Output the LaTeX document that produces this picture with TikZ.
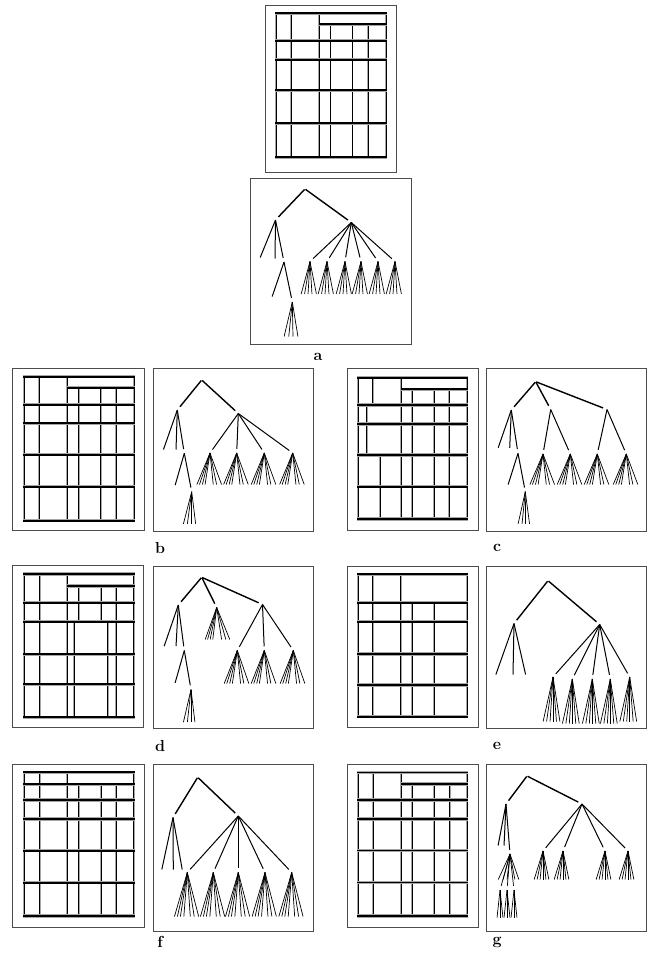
\documentclass[tikz,border=0pt]{standalone}

% fan of leaves hanging below one apex node
\newcommand{\leaffan}[3]{%
  \foreach \dx [count=\k] in {#3} {
    \path (#1) ++(\dx,#2) node[leaf] (#1-\k) {};
    \draw[twig] (#1.center) -- (#1-\k);
  }}

\begin{document}
\begin{tikzpicture}[
  x=1pt, y=-1pt,
  frame/.style={draw=black!70, line width=0.9pt},
  hrule/.style={draw=black!35, double=black, double distance=1.7pt, line width=0.85pt},
  vrule/.style={draw=black!35, double=black, double distance=0.8pt, line width=0.55pt},
  pt/.style={circle, inner sep=3pt, outer sep=0pt},
  leaf/.style={inner sep=0pt, outer sep=0pt},
  trunk/.style={line width=1.4pt},
  branch/.style={line width=1pt},
  twig/.style={line width=0.7pt},
  lbl/.style={font=\fontsize{16}{18}\selectfont\bfseries, inner sep=0pt}
]
\useasboundingbox (0,0) rectangle (651,958);

% ---------- panel a ----------
\draw[frame] (265,5) rectangle (396,172);
\begin{scope}[shift={(276,13.3)}]
  \foreach \x in {0,15,43,110} \draw[vrule] (\x,0) -- (\x,144);
  \foreach \x in {54.5,76.5,92} \draw[vrule] (\x,11) -- (\x,144);
  \draw[hrule] (43,11) -- (111,11);
  \foreach \y in {0,27.5,46.5,77,110,144} \draw[hrule] (-1,\y) -- (111,\y);
\end{scope}

\draw[frame] (250,178) rectangle (411,344);
\node[leaf] (a-r) at (305,189) {};
\node[pt] (a-l) at (275.5,220) {};
\node[pt] (a-m) at (351.3,222.5) {};
\draw[trunk] (a-r) -- (a-l);
\draw[trunk] (a-r) -- (a-m);
\node[leaf] (a-l1) at (260,258) {};
\node[leaf] (a-l2) at (275,259) {};
\node[pt] (a-ll) at (284,262) {};
\foreach \c in {a-l1,a-l2,a-ll} \draw[branch] (a-l.center) -- (\c);
\node[leaf] (a-ll1) at (272,297) {};
\node[pt] (a-lll) at (292.3,302) {};
\foreach \c in {a-ll1,a-lll} \draw[branch] (a-ll.center) -- (\c);
\leaffan{a-lll}{35}{-8.3,-3.6,0.7,5.7}
\foreach \x [count=\i] in {310,327,345,361,378,395} {
  \node[pt] (a-m\i) at (\x,261.5) {};
  \draw[branch] (a-m.center) -- (a-m\i);
  \leaffan{a-m\i}{33}{-9,-5.5,-2,2,6.5}
}
\node[lbl] (lab-a) at (318,357) {a};

% ---------- panel b ----------
\draw[frame] (12,368) rectangle (144,530);
\begin{scope}[shift={(24.3,376.7)}]
  \foreach \x in {0,15,43,110} \draw[vrule] (\x,0) -- (\x,144);
  \foreach \x in {54.5,76.5,92} \draw[vrule] (\x,11) -- (\x,144);
  \draw[hrule] (43,11) -- (111,11);
  \foreach \y in {0,28,46.5,78,110,144} \draw[hrule] (-1,\y) -- (111,\y);
\end{scope}

\draw[frame] (153,368) rectangle (313,531);
\node[leaf] (b-r) at (201.7,380) {};
\node[pt] (b-l) at (177.3,410) {};
\node[pt] (b-m) at (238.3,413.5) {};
\draw[trunk] (b-r) -- (b-l);
\draw[trunk] (b-r) -- (b-m);
\node[leaf] (b-l1) at (163.3,450) {};
\node[leaf] (b-l2) at (176,450) {};
\node[pt] (b-ll) at (184.3,453.3) {};
\foreach \c in {b-l1,b-l2,b-ll} \draw[branch] (b-l.center) -- (\c);
\node[leaf] (b-ll1) at (175,485.7) {};
\node[pt] (b-lll) at (191.7,491.7) {};
\foreach \c in {b-ll1,b-lll} \draw[branch] (b-ll.center) -- (\c);
\leaffan{b-lll}{32.6}{-8.4,-4.4,0,4}
\foreach \x [count=\i] in {210,236.7,264.3,292.7} {
  \node[pt] (b-m\i) at (\x,453) {};
  \draw[branch] (b-m.center) -- (b-m\i);
  \leaffan{b-m\i}{32}{-13.3,-10.7,-7.7,-5,3.3,6.7,11.7}
}
\node[lbl] (lab-b) at (160,548) {b};

% ---------- panel c ----------
\draw[frame] (347,368) rectangle (478,530);
\begin{scope}[shift={(358.3,377.7)}]
  \foreach \x in {0,43,109} \draw[vrule] (\x,0) -- (\x,141.3);
  \draw[vrule] (14.4,0) -- (14.4,27.3);
  \draw[vrule] (8.4,27.3) -- (8.4,77.3);
  \draw[vrule] (21.7,77.3) -- (21.7,141.3);
  \foreach \x in {54,75.7,91} \draw[vrule] (\x,11.6) -- (\x,141.3);
  \draw[hrule] (43,11.6) -- (110,11.6);
  \foreach \y in {0,27.3,46.3,77.3,109,141.3} \draw[hrule] (-1,\y) -- (110,\y);
\end{scope}

\draw[frame] (486,368) rectangle (646,531);
\node[leaf] (c-r) at (535.7,381.7) {};
\node[pt] (c-l) at (511.3,410) {};
\node[pt] (c-m) at (550.7,409.5) {};
\node[pt] (c-n) at (607,409.5) {};
\draw[trunk] (c-r) -- (c-l);
\draw[trunk] (c-r) -- (c-m);
\draw[trunk] (c-r) -- (c-n);
\node[leaf] (c-l1) at (498,448.3) {};
\node[leaf] (c-l2) at (509.7,448.3) {};
\node[pt] (c-ll) at (518,453.3) {};
\foreach \c in {c-l1,c-l2,c-ll} \draw[branch] (c-l.center) -- (\c);
\node[leaf] (c-ll1) at (508,485) {};
\node[pt] (c-lll) at (525.3,491.7) {};
\foreach \c in {c-ll1,c-lll} \draw[branch] (c-ll.center) -- (\c);
\leaffan{c-lll}{32.6}{-7.3,-3.3,0.3,4.3}
\foreach \x [count=\i] in {543,570.3} {
  \node[pt] (c-m\i) at (\x,454) {};
  \draw[branch] (c-m.center) -- (c-m\i);
  \leaffan{c-m\i}{31}{-13.3,-10.7,-7.7,-5,3.3,6.7,11.7}
}
\foreach \x [count=\i] in {597.3,626.3} {
  \node[pt] (c-n\i) at (\x,454) {};
  \draw[branch] (c-n.center) -- (c-n\i);
  \leaffan{c-n\i}{31}{-13.3,-10.7,-7.7,-5,3.3,6.7,11.7}
}
\node[lbl] (lab-c) at (497,548) {c};

% ---------- panel d ----------
\draw[frame] (12,565) rectangle (143,727);
\begin{scope}[shift={(24.3,574)}]
  \foreach \x in {0,15.4,43,109.4} \draw[vrule] (\x,0) -- (\x,143.3);
  \draw[vrule] (91.7,12) -- (91.7,143.3);
  \foreach \x in {54.4,76.7} \draw[vrule] (\x,12) -- (\x,47.7);
  \foreach \x in {50,83.4} \draw[vrule] (\x,47.7) -- (\x,143.3);
  \draw[hrule] (43,12) -- (110.4,12);
  \foreach \y in {0,28.7,47.7,80.3,110.3,143.3} \draw[hrule] (-1,\y) -- (110.4,\y);
\end{scope}

\draw[frame] (153,566) rectangle (313,728);
\node[leaf] (d-r) at (201.7,577.3) {};
\node[pt] (d-l) at (178.3,605) {};
\node[pt] (d-m) at (216.7,607.5) {};
\node[pt] (d-n) at (262.5,604.5) {};
\draw[trunk] (d-r) -- (d-l);
\draw[trunk] (d-r) -- (d-m);
\draw[trunk] (d-r) -- (d-n);
\node[leaf] (d-l1) at (164,646.7) {};
\node[leaf] (d-l2) at (176,646.7) {};
\node[pt] (d-ll) at (184.3,650.5) {};
\foreach \c in {d-l1,d-l2,d-ll} \draw[branch] (d-l.center) -- (\c);
\node[leaf] (d-ll1) at (175,683.3) {};
\node[pt] (d-lll) at (191,689.5) {};
\foreach \c in {d-ll1,d-lll} \draw[branch] (d-ll.center) -- (\c);
\leaffan{d-lll}{33.2}{-7.7,-3.7,0,4}
\leaffan{d-m}{32.5}{-11.7,-9.3,-6.7,-4,5,9.3,13.3}
\foreach \x [count=\i] in {237.3,264.3,293.3} {
  \node[pt] (d-n\i) at (\x,650.5) {};
  \draw[branch] (d-n.center) -- (d-n\i);
  \leaffan{d-n\i}{33.5}{-13.3,-10.7,-7.7,-5,3.3,6.7,11.7}
}
\node[lbl] (lab-d) at (160,746) {d};

% ---------- panel e ----------
\draw[frame] (347,566) rectangle (478,727);
\begin{scope}[shift={(358.3,574.3)}]
  \foreach \x in {0,14.4,42.4,109} \draw[vrule] (\x,0) -- (\x,142.4);
  \foreach \x in {54,75.7} \draw[vrule] (\x,28.4) -- (\x,142.4);
  \foreach \y in {0,28.4,47.4,79.7,110.7,142.4} \draw[hrule] (-1,\y) -- (110,\y);
\end{scope}

\draw[frame] (486,566) rectangle (646,728);
\node[leaf] (e-r) at (548,580.7) {};
\node[pt] (e-l) at (514,623.5) {};
\node[pt] (e-m) at (599.7,624.5) {};
\draw[trunk] (e-r) -- (e-l);
\draw[trunk] (e-r) -- (e-m);
\foreach \x [count=\i] in {495.7,513,525.7} {
  \node[leaf] (e-l\i) at (\x,675) {};
  \draw[branch] (e-l.center) -- (e-l\i);
}
\foreach \x/\y [count=\i] in {553/677,572.3/679,592.3/679,610.3/679,629.7/677} {
  \node[pt] (e-m\i) at (\x,\y) {};
  \draw[branch] (e-m.center) -- (e-m\i);
  \leaffan{e-m\i}{45}{-10,-6.5,-3,0,3.5,7}
}
\node[lbl] (lab-e) at (497,746) {e};

% ---------- panel f ----------
\draw[frame] (12,764) rectangle (144,927);
\begin{scope}[shift={(24.3,772.3)}]
  \foreach \x in {0,15.4,43,109.4} \draw[vrule] (\x,0) -- (\x,143.7);
  \foreach \x in {54.4,76.7,91.7} \draw[vrule] (\x,12) -- (\x,143.7);
  \foreach \y in {0,12,27.7,46.7,78.4,110.4,143.7} \draw[hrule] (-1,\y) -- (110.4,\y);
\end{scope}

\draw[frame] (153,764) rectangle (313,931);
\node[leaf] (f-r) at (197.7,777.3) {};
\node[pt] (f-l) at (173,817.5) {};
\node[pt] (f-m) at (238.3,816) {};
\draw[trunk] (f-r) -- (f-l);
\draw[trunk] (f-r) -- (f-m);
\foreach \x [count=\i] in {161.7,173.3,182.3} {
  \node[leaf] (f-l\i) at (\x,870) {};
  \draw[branch] (f-l.center) -- (f-l\i);
}
\foreach \x [count=\i] in {187.3,213.3,238.3,265,291.7} {
  \node[pt] (f-m\i) at (\x,872.5) {};
  \draw[branch] (f-m.center) -- (f-m\i);
  \leaffan{f-m\i}{44.5}{-13,-10,-7,-3.5,3,7,11.5}
}
\node[lbl] (lab-f) at (160,942) {f};

% ---------- panel g ----------
\draw[frame] (347,764) rectangle (478,927);
\begin{scope}[shift={(358.3,772.5)}]
  \foreach \x in {0,15,43,109} \draw[vrule] (\x,0) -- (\x,143.5);
  \foreach \x in {54,76,91.3} \draw[vrule] (\x,11.5) -- (\x,143.5);
  \draw[hrule] (43,11.5) -- (110,11.5);
  \foreach \y in {0,27.5,46.5,78,110,143.5} \draw[hrule] (-1,\y) -- (110,\y);
\end{scope}

\draw[frame] (486,764) rectangle (646,931);
\node[leaf] (g-r) at (527,776) {};
\node[pt] (g-l) at (506,804) {};
\node[pt] (g-m) at (582,804) {};
\draw[trunk] (g-r) -- (g-l);
\draw[trunk] (g-r) -- (g-m);
\node[leaf] (g-l1) at (498,846) {};
\node[leaf] (g-l2) at (504,846) {};
\node[pt] (g-ll) at (510,854) {};
\foreach \c in {g-l1,g-l2,g-ll} \draw[branch] (g-l.center) -- (\c);
\leaffan{g-ll}{26}{-12,-7,-3,5,9}
\foreach \x [count=\i] in {500,507,514} {
  \node[pt] (g-ll\i) at (\x,890) {};
  \draw[twig] (g-ll.center) -- (g-ll\i);
  \leaffan{g-ll\i}{28}{-3,0,3}
}
\foreach \x [count=\i] in {543,563,605,628} {
  \node[pt] (g-m\i) at (\x,851) {};
  \draw[branch] (g-m.center) -- (g-m\i);
  \leaffan{g-m\i}{29}{-9,-6,-3,0,3,6}
}
\node[lbl] (lab-g) at (497,942) {g};
\end{tikzpicture}
\end{document}
